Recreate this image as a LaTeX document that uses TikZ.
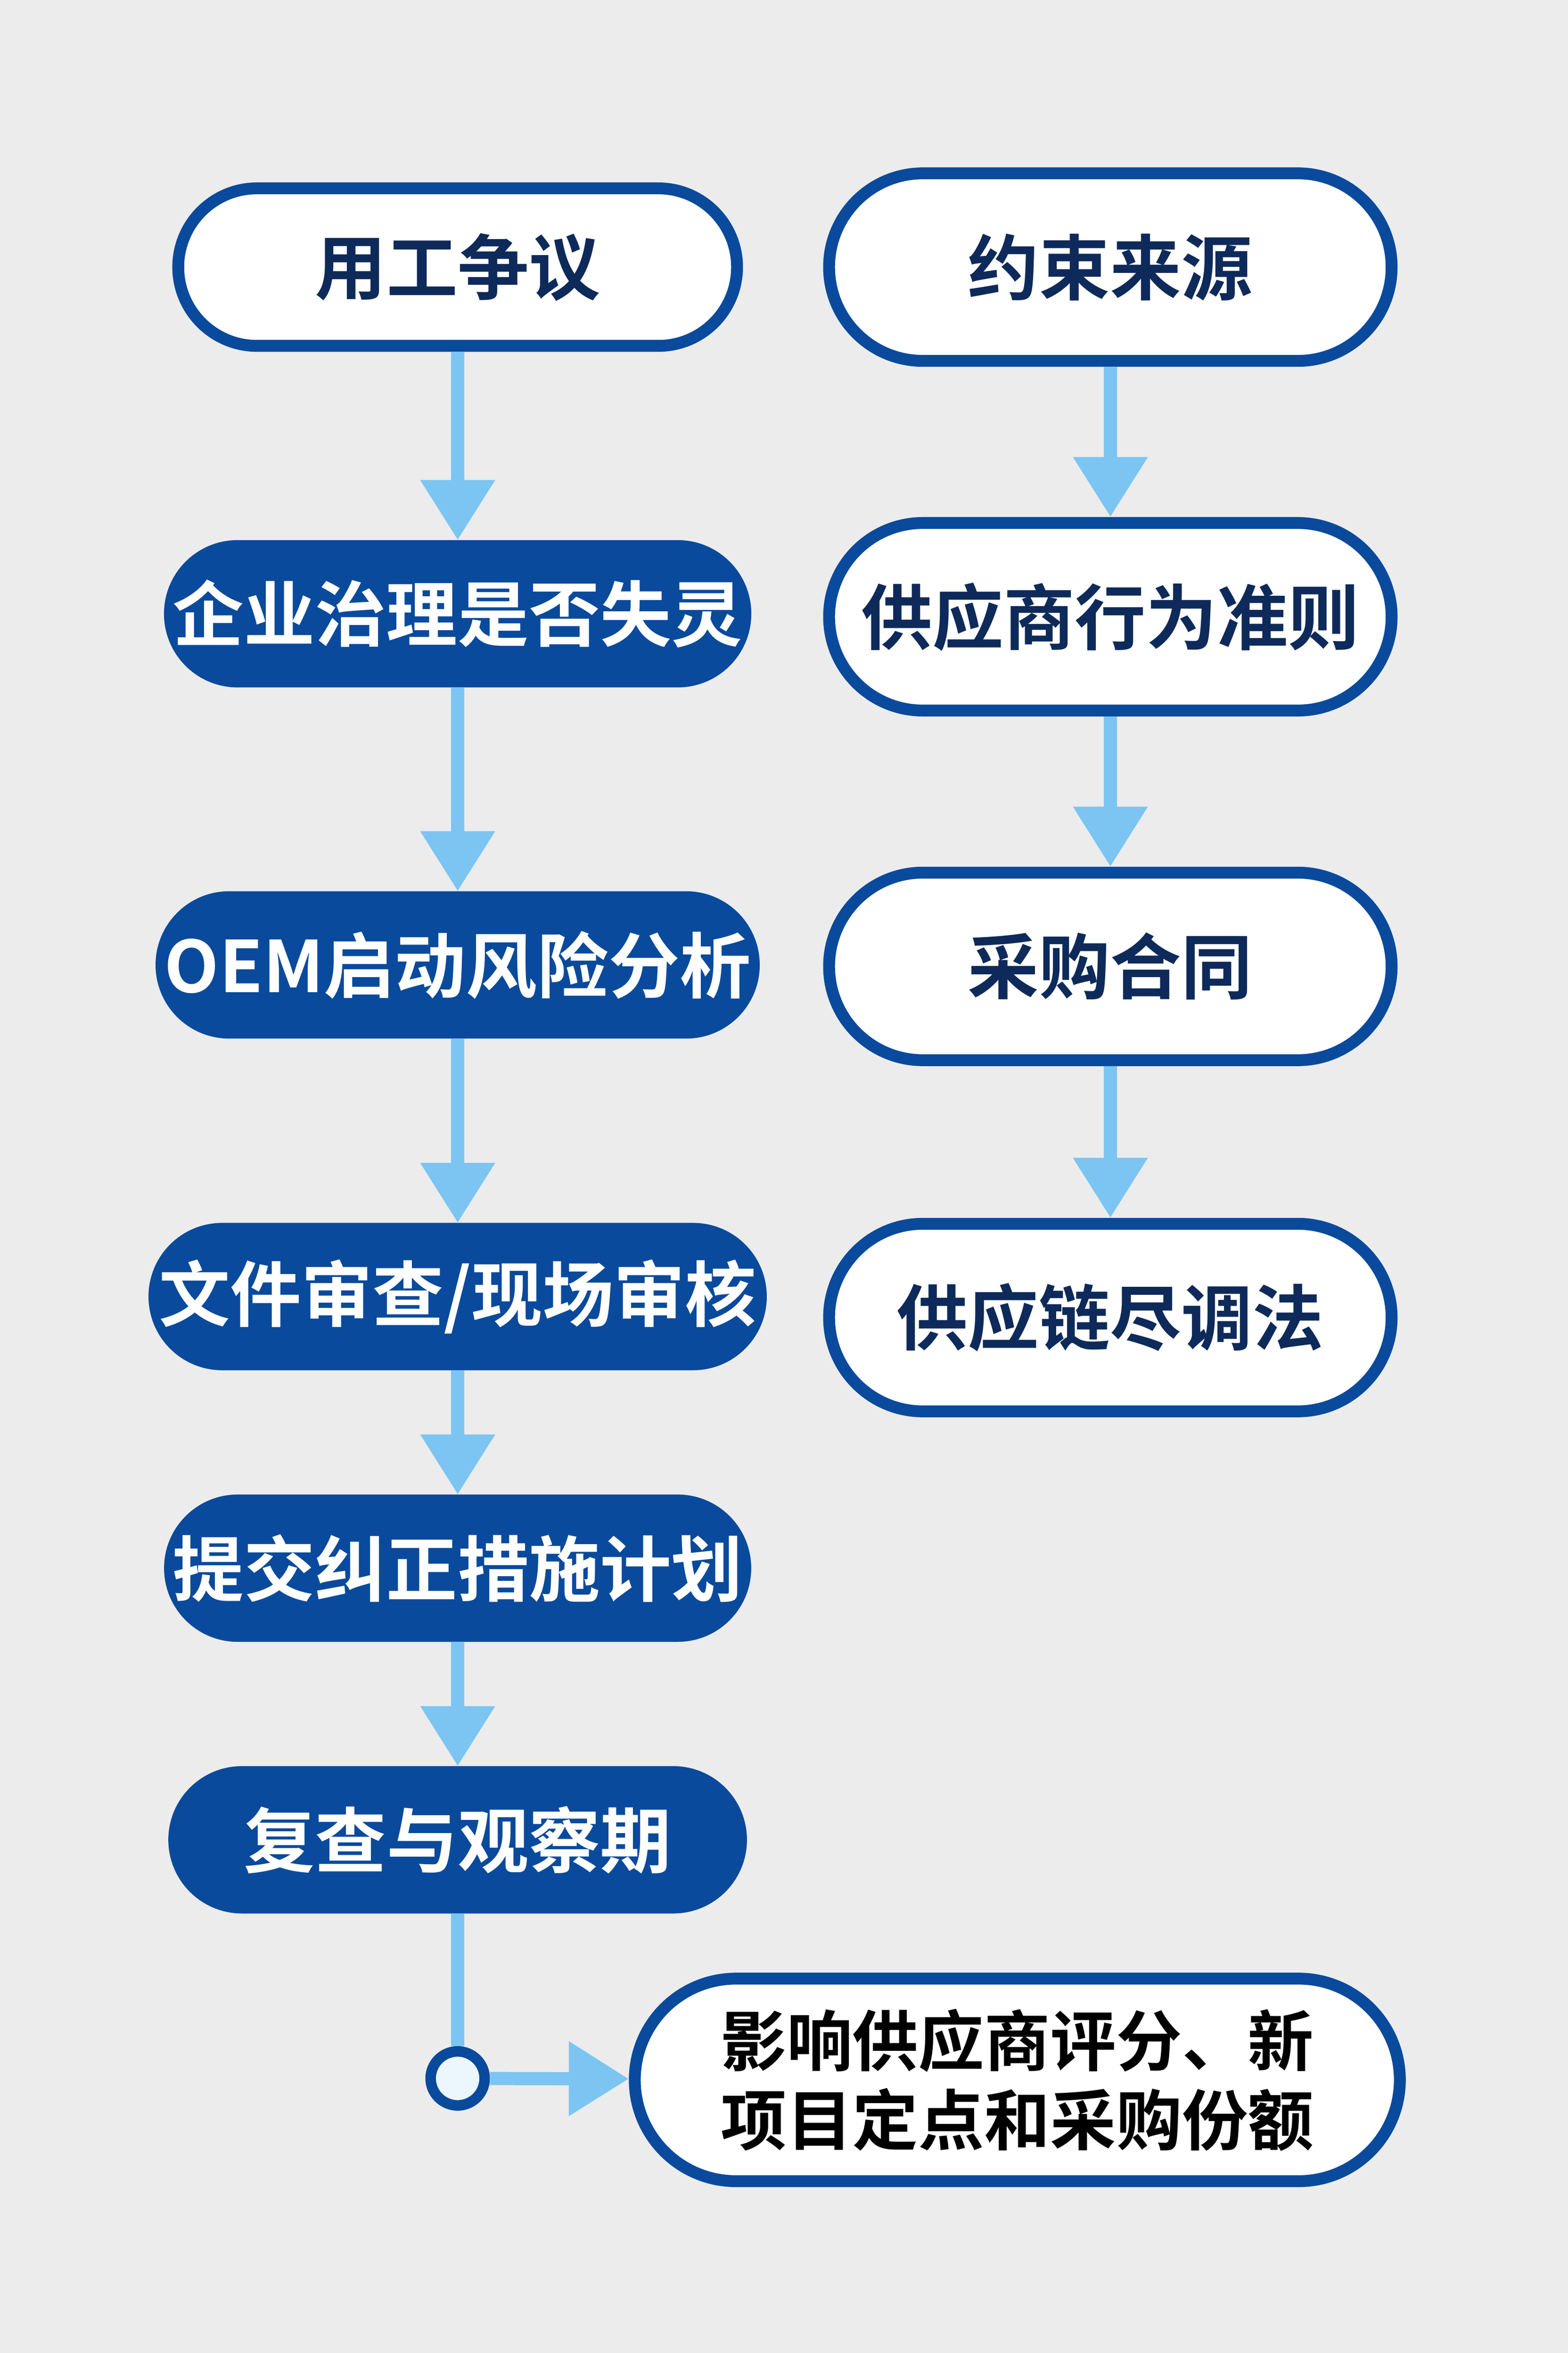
\documentclass[tikz,border=0pt]{standalone}
\usepackage{fontspec}
\newfontfamily\cjk{Noto Sans CJK SC}[BoldFont={Noto Sans CJK SC Bold}]
\usetikzlibrary{shapes.misc,arrows.meta}
\definecolor{navy}{HTML}{0A4A9C}
\definecolor{ink}{HTML}{0E2A5A}
\definecolor{sky}{HTML}{7CC5F2}
\definecolor{paper}{HTML}{ECECEC}

\begin{document}
\begin{tikzpicture}[x=0.02cm,y=-0.02cm,
  pill/.style={rounded rectangle,draw=navy,line width=4.5pt,fill=white,text=ink,
    font=\cjk\bfseries\fontsize{27}{32}\selectfont,inner sep=0pt},
  solid pill/.style={rounded rectangle,draw=navy,fill=navy,text=white,
    font=\cjk\bfseries\fontsize{27}{32}\selectfont,inner sep=0pt,
    minimum width=7.7cm,minimum height=1.95cm},
  flow/.style={draw=sky,line width=5pt,-{Triangle[length=0.8cm,width=0.95cm]}}]
\fill[paper] (0,0) rectangle (1045,1568);
\useasboundingbox (0,0) rectangle (1045,1568);
% left column
\node[pill,minimum width=7.45cm,minimum height=2.1cm] (dispute) at (305,178) {用工争议};
\node[solid pill] (governance) at (305,409) {企业治理是否失灵};
\node[solid pill] (risk) at (305,643) {OEM启动风险分析};
\node[solid pill] (audit) at (305,864) {文件审查/现场审核};
\node[solid pill] (capa) at (305,1045) {提交纠正措施计划};
\node[solid pill] (review) at (305,1226) {复查与观察期};
% right column
\node[pill,minimum width=7.5cm,minimum height=2.5cm] (source) at (740,178) {约束来源};
\node[pill,minimum width=7.5cm,minimum height=2.5cm] (code) at (740,411) {供应商行为准则};
\node[pill,minimum width=7.5cm,minimum height=2.5cm] (contract) at (740,644) {采购合同};
\node[pill,minimum width=7.5cm,minimum height=2.5cm] (duediligence) at (740,878) {供应链尽调法};
% outcome
\node[pill,text=black,minimum width=10.2cm,minimum height=2.7cm,align=center,
  font=\cjk\bfseries\fontsize{25}{30}\selectfont] (outcome) at (678,1386)
  {影响供应商评分、新\\项目定点和采购份额};
\node[circle,draw=navy,line width=4pt,fill=white!85!sky,minimum size=0.72cm,inner sep=0pt] (joint) at (305,1385) {};

\draw[flow] (dispute) -- (governance);
\draw[flow] (governance) -- (risk);
\draw[flow] (risk) -- (audit);
\draw[flow] (audit) -- (capa);
\draw[flow] (capa) -- (review);
\draw[flow] (source) -- (code);
\draw[flow] (code) -- (contract);
\draw[flow] (contract) -- (duediligence);
\draw[draw=sky,line width=5pt] (review) -- (joint);
\draw[flow] (joint) -- (outcome);
\end{tikzpicture}
\end{document}
